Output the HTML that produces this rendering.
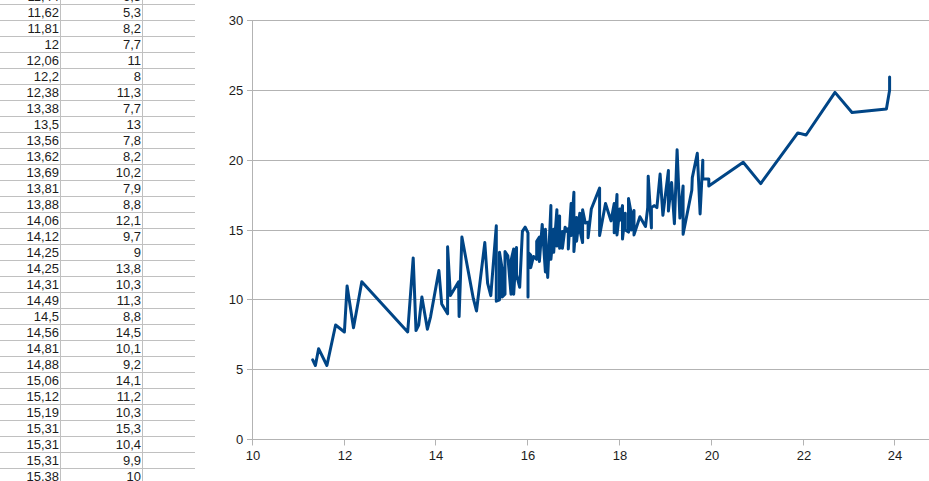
<!DOCTYPE html>
<html><head><meta charset="utf-8"><title>sheet</title>
<style>
html,body{margin:0;padding:0;background:#fff;}
body{width:929px;height:481px;overflow:hidden;position:relative;font-family:"Liberation Sans",sans-serif;font-size:13px;color:#1c1c1c;}
.hl{position:absolute;left:0;width:195px;height:1px;background:#c0c0c0;}
.vl{position:absolute;top:0;height:481px;width:1px;background:#c0c0c0;}
.c{position:absolute;height:16px;line-height:16px;text-align:right;white-space:nowrap;}
.a{left:0;width:59px;}
.b{left:61px;width:80px;}
svg{position:absolute;left:0;top:0;}
svg text{font-family:"Liberation Sans",sans-serif;font-size:13px;fill:#1c1c1c;}
</style></head><body>

<div class="hl" style="top:4px"></div>
<div class="hl" style="top:20px"></div>
<div class="hl" style="top:36px"></div>
<div class="hl" style="top:52px"></div>
<div class="hl" style="top:68px"></div>
<div class="hl" style="top:84px"></div>
<div class="hl" style="top:100px"></div>
<div class="hl" style="top:116px"></div>
<div class="hl" style="top:132px"></div>
<div class="hl" style="top:148px"></div>
<div class="hl" style="top:164px"></div>
<div class="hl" style="top:180px"></div>
<div class="hl" style="top:196px"></div>
<div class="hl" style="top:212px"></div>
<div class="hl" style="top:228px"></div>
<div class="hl" style="top:244px"></div>
<div class="hl" style="top:260px"></div>
<div class="hl" style="top:276px"></div>
<div class="hl" style="top:292px"></div>
<div class="hl" style="top:308px"></div>
<div class="hl" style="top:324px"></div>
<div class="hl" style="top:340px"></div>
<div class="hl" style="top:356px"></div>
<div class="hl" style="top:372px"></div>
<div class="hl" style="top:388px"></div>
<div class="hl" style="top:404px"></div>
<div class="hl" style="top:420px"></div>
<div class="hl" style="top:436px"></div>
<div class="hl" style="top:452px"></div>
<div class="hl" style="top:468px"></div>
<div class="vl" style="left:60px"></div><div class="vl" style="left:142px"></div>
<div class="c a" style="top:-11px">11,44</div><div class="c b" style="top:-11px">6,5</div>
<div class="c a" style="top:5px">11,62</div><div class="c b" style="top:5px">5,3</div>
<div class="c a" style="top:21px">11,81</div><div class="c b" style="top:21px">8,2</div>
<div class="c a" style="top:37px">12</div><div class="c b" style="top:37px">7,7</div>
<div class="c a" style="top:53px">12,06</div><div class="c b" style="top:53px">11</div>
<div class="c a" style="top:69px">12,2</div><div class="c b" style="top:69px">8</div>
<div class="c a" style="top:85px">12,38</div><div class="c b" style="top:85px">11,3</div>
<div class="c a" style="top:101px">13,38</div><div class="c b" style="top:101px">7,7</div>
<div class="c a" style="top:117px">13,5</div><div class="c b" style="top:117px">13</div>
<div class="c a" style="top:133px">13,56</div><div class="c b" style="top:133px">7,8</div>
<div class="c a" style="top:149px">13,62</div><div class="c b" style="top:149px">8,2</div>
<div class="c a" style="top:165px">13,69</div><div class="c b" style="top:165px">10,2</div>
<div class="c a" style="top:181px">13,81</div><div class="c b" style="top:181px">7,9</div>
<div class="c a" style="top:197px">13,88</div><div class="c b" style="top:197px">8,8</div>
<div class="c a" style="top:213px">14,06</div><div class="c b" style="top:213px">12,1</div>
<div class="c a" style="top:229px">14,12</div><div class="c b" style="top:229px">9,7</div>
<div class="c a" style="top:245px">14,25</div><div class="c b" style="top:245px">9</div>
<div class="c a" style="top:261px">14,25</div><div class="c b" style="top:261px">13,8</div>
<div class="c a" style="top:277px">14,31</div><div class="c b" style="top:277px">10,3</div>
<div class="c a" style="top:293px">14,49</div><div class="c b" style="top:293px">11,3</div>
<div class="c a" style="top:309px">14,5</div><div class="c b" style="top:309px">8,8</div>
<div class="c a" style="top:325px">14,56</div><div class="c b" style="top:325px">14,5</div>
<div class="c a" style="top:341px">14,81</div><div class="c b" style="top:341px">10,1</div>
<div class="c a" style="top:357px">14,88</div><div class="c b" style="top:357px">9,2</div>
<div class="c a" style="top:373px">15,06</div><div class="c b" style="top:373px">14,1</div>
<div class="c a" style="top:389px">15,12</div><div class="c b" style="top:389px">11,2</div>
<div class="c a" style="top:405px">15,19</div><div class="c b" style="top:405px">10,3</div>
<div class="c a" style="top:421px">15,31</div><div class="c b" style="top:421px">15,3</div>
<div class="c a" style="top:437px">15,31</div><div class="c b" style="top:437px">10,4</div>
<div class="c a" style="top:453px">15,31</div><div class="c b" style="top:453px">9,9</div>
<div class="c a" style="top:469px">15,38</div><div class="c b" style="top:469px">10</div>
<svg width="929" height="481" viewBox="0 0 929 481">
<path d="M247 439.50H929M247 369.66H929M247 299.83H929M247 230.00H929M247 160.16H929M247 90.32H929M247 20.49H929M252.5 20V445M344.5 439.5V445M435.5 439.5V445M527.5 439.5V445M619.5 439.5V445M711.5 439.5V445M803.5 439.5V445M894.5 439.5V445" stroke="#b3b3b3" stroke-width="1" fill="none" shape-rendering="crispEdges"/>
<path d="M252.5 445V446M344.5 445V446M435.5 445V446M527.5 445V446M619.5 445V446M711.5 445V446M803.5 445V446M894.5 445V446" stroke="#dcdcdc" stroke-width="1" fill="none" shape-rendering="crispEdges"/>
<text x="243.2" y="444.0" text-anchor="end">0</text>
<text x="243.2" y="374.2" text-anchor="end">5</text>
<text x="243.2" y="304.3" text-anchor="end">10</text>
<text x="243.2" y="234.5" text-anchor="end">15</text>
<text x="243.2" y="164.7" text-anchor="end">20</text>
<text x="243.2" y="94.8" text-anchor="end">25</text>
<text x="243.2" y="25.0" text-anchor="end">30</text>
<text x="253.0" y="460.0" text-anchor="middle">10</text>
<text x="345.0" y="460.0" text-anchor="middle">12</text>
<text x="436.0" y="460.0" text-anchor="middle">14</text>
<text x="528.0" y="460.0" text-anchor="middle">16</text>
<text x="620.0" y="460.0" text-anchor="middle">18</text>
<text x="712.0" y="460.0" text-anchor="middle">20</text>
<text x="804.0" y="460.0" text-anchor="middle">22</text>
<text x="895.0" y="460.0" text-anchor="middle">24</text>
<path d="M312.7 359.9L315.4 365.5L318.6 348.7L326.9 365.5L335.6 325.0L344.4 332.0L347.1 285.9L353.5 327.8L361.8 281.7L407.7 332.0L413.2 257.9L416.0 330.6L418.7 325.0L421.9 297.0L427.4 329.2L430.6 316.6L438.9 270.5L441.7 304.0L447.6 313.8L447.6 246.8L450.4 295.6L458.6 281.7L459.1 316.6L461.9 237.0L473.3 298.4L476.5 311.0L484.8 242.6L487.6 283.1L490.8 295.6L496.3 225.8L496.3 294.2L496.3 301.2L499.5 299.8L499.5 252.3L502.2 269.1L502.2 297.0L505.0 294.2L505.0 251.6L507.8 255.8L511.0 294.2L511.0 260.7L513.7 248.9L513.7 294.2L516.5 247.5L516.5 274.7L519.7 287.3L522.4 231.4L525.2 227.2L528.0 232.8L528.0 297.0L528.0 252.3L530.7 255.1L530.7 267.7L533.5 256.5L536.7 259.3L536.7 241.2L539.4 237.0L539.4 261.4L542.2 224.4L545.4 271.9L545.4 229.3L547.7 277.5L550.9 205.6L550.9 259.3L553.7 229.3L553.7 252.3L556.9 209.7L556.9 246.1L559.6 216.0L559.6 248.2L562.4 231.4L562.4 248.2L565.1 227.2L567.0 231.4L568.3 228.6L568.3 248.9L571.1 203.5L571.1 235.6L573.9 192.3L573.9 251.6L576.6 217.4L576.6 241.2L579.8 213.2L579.8 230.0L582.6 242.6L582.6 209.7L585.3 223.0L588.1 222.3L588.1 237.7L591.3 209.0L599.6 188.1L599.6 235.6L605.5 203.5L611.0 220.9L614.2 203.5L614.2 232.8L617.0 194.4L617.0 234.9L619.8 209.0L619.8 220.2L622.5 205.6L622.5 239.1L625.3 213.2L625.3 230.0L628.5 232.1L628.5 198.6L631.2 213.2L631.2 230.0L634.0 210.4L634.0 234.9L639.9 216.7L645.5 226.5L647.7 207.6L648.2 176.2L651.4 227.9L651.4 207.6L654.2 205.6L656.9 207.6L660.1 174.1L662.9 215.3L668.4 170.6L668.4 211.1L671.6 182.5L674.4 223.7L677.1 149.7L679.9 218.1L683.1 186.0L683.1 234.2L691.8 190.2L692.3 177.6L697.3 153.2L700.1 213.9L702.8 160.2L702.8 179.0L708.8 179.0L708.8 186.0L743.2 162.3L760.7 183.6L797.8 132.9L806.1 135.0L835.0 92.4L852.0 112.5L886.4 109.0L889.6 90.3L889.6 77.1" stroke="#004586" stroke-width="3" fill="none" stroke-linejoin="round" stroke-linecap="round"/>
</svg></body></html>
